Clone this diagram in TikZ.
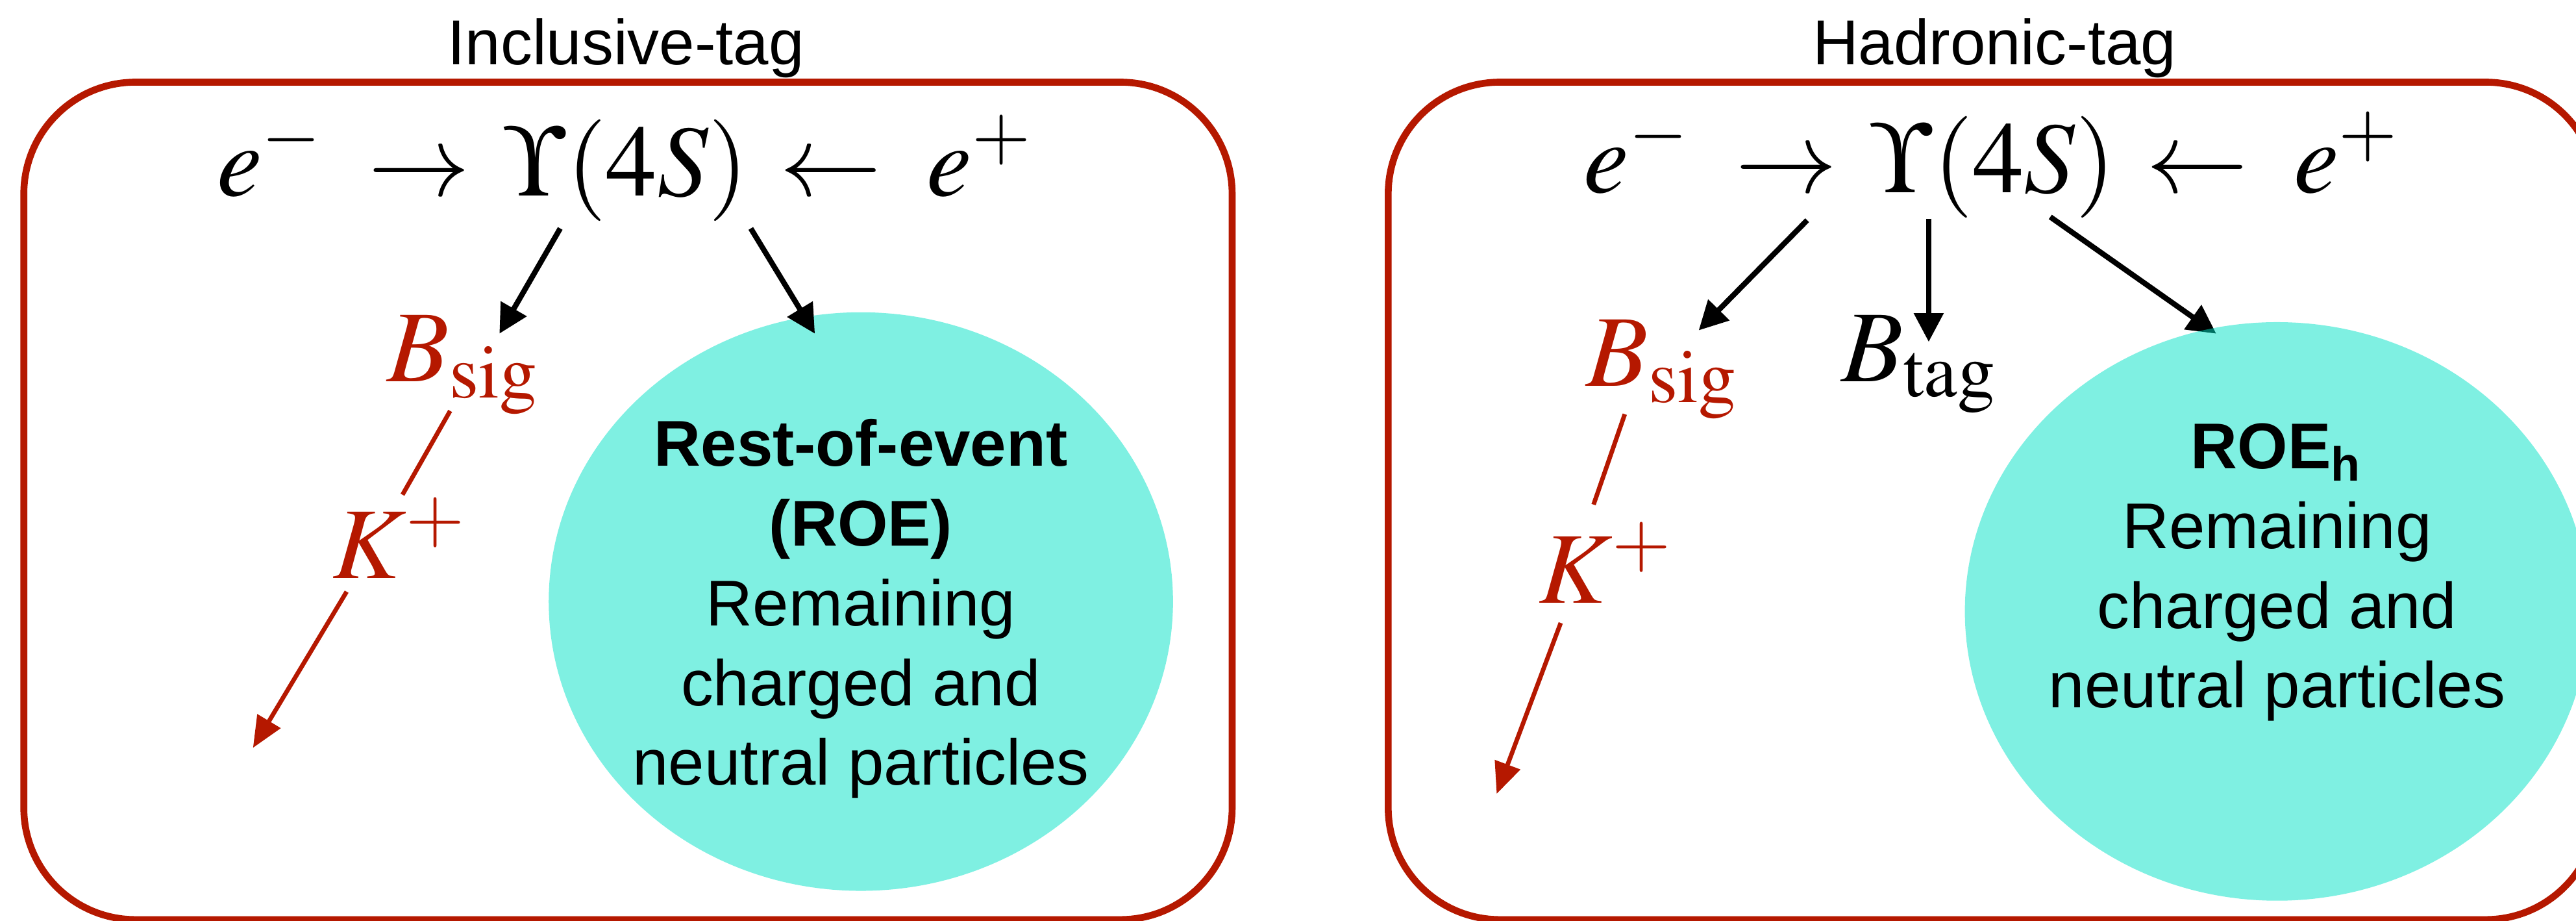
\documentclass[tikz,border=0pt]{standalone}
\usepackage{mathptmx}
\usepackage[no-math]{fontspec}
\setmainfont{Liberation Sans}
\usepackage{tikz}
\usetikzlibrary{positioning,calc,shapes.geometric,arrows.meta}
\definecolor{tagred}{RGB}{181,24,0}
\definecolor{roecyan}{RGB}{0,225,197}

\tikzset{
  frame/.style={draw=tagred, line width=0.42mm, rounded corners=6.8mm},
  title/.style={font=\fontsize{11}{13}\selectfont, inner sep=0pt},
  particle/.style={font=\fontsize{17.6}{20}\selectfont, inner sep=0pt},
  decay/.style={-{Triangle[length=1.75mm,width=1.75mm]}, line width=0.33mm},
  track/.style={draw=tagred, line width=0.27mm},
  kaon/.style={track, -{Triangle[length=1.9mm,width=1.6mm]}},
  roe/.style={ellipse, fill=roecyan, fill opacity=0.5, minimum width=38mm, minimum height=35.2mm, inner sep=0pt},
  roetext/.style={align=center, font=\fontsize{11.2}{13.8}\selectfont, inner sep=0pt}
}

\begin{document}
\begin{tikzpicture}[x=0.1mm,y=0.1mm]
\clip (0,0) rectangle (1568,560);

% inclusive tag
\node[title, anchor=base] (titL) at (381,520.7) {Inclusive-tag};
\draw[frame] (14.5,0.5) rectangle (750,510);

\node[particle, anchor=base] (upsL) at (381,441) {$\Upsilon(4S)$};
\node[particle, base left=1.9mm of upsL] (emL) {$e^{-}\;\rightarrow$};
\node[particle, base right=1.8mm of upsL] (epL) {$\leftarrow\;e^{+}$};

\node[roe] (roeL) at (524,194) {};
\node[roetext] (roetxtL) at (524,189.5) {\textbf{Rest-of-event}\\\textbf{(ROE)}\\Remaining\\charged and\\neutral particles};

\node[particle, text=tagred, anchor=base west] (bsigL) at (235,328) {$B_{\mathrm{sig}}$};
\node[particle, text=tagred, anchor=base west] (kL) at (202,208) {$K^{+}$};
\coordinate (kendL) at (154,105);

\draw[decay] ($(upsL.base)+(-40,-20)$) -- ($(bsigL.base west)+(69,29)$);
\draw[decay] ($(upsL.base)+(76,-20)$) -- ($(roeL.center)+(-28,163)$);
\draw[track] ($(bsigL.base west)+(39,-18)$) -- ($(kL.base west)+(43,51)$);
\draw[kaon] ($(kL.base west)+(9,-8)$) -- (kendL);

% hadronic tag
\node[title, anchor=base] (titR) at (1214,520.7) {Hadronic-tag};
\draw[frame] (845,0.5) rectangle (1581,510);

\node[particle, anchor=base] (upsR) at (1213,443) {$\Upsilon(4S)$};
\node[particle, base left=1.9mm of upsR] (emR) {$e^{-}\;\rightarrow$};
\node[particle, base right=1.8mm of upsR] (epR) {$\leftarrow\;e^{+}$};

\node[particle, text=tagred, anchor=base west] (bsigR) at (965,325) {$B_{\mathrm{sig}}$};
\node[particle, anchor=base west] (btagR) at (1120,328) {$B_{\mathrm{tag}}$};
\node[particle, text=tagred, anchor=base west] (kR) at (936,193) {$K^{+}$};
\coordinate (kendR) at (911,77);
\coordinate (roecR) at (1386,188);

\draw[decay] ($(upsR.base)+(35,-15)$) -- ($(roecR)+(-37,169)$);
\node[roe] (roeR) at (roecR) {};
\node[roetext] (roetxtR) at (1386,211.7) {\textbf{ROE\textsubscript{h}}\\Remaining\\charged and\\neutral particles};

\draw[decay] ($(upsR.base)+(-113,-17)$) -- ($(bsigR.base west)+(69,34)$);
\draw[decay] ($(upsR.base)+(-39,-16)$) -- ($(btagR.base west)+(54,24)$);
\draw[track] ($(bsigR.base west)+(24,-17)$) -- ($(kR.base west)+(34,60)$);
\draw[kaon] ($(kR.base west)+(14,-12)$) -- (kendR);
\end{tikzpicture}
\end{document}
